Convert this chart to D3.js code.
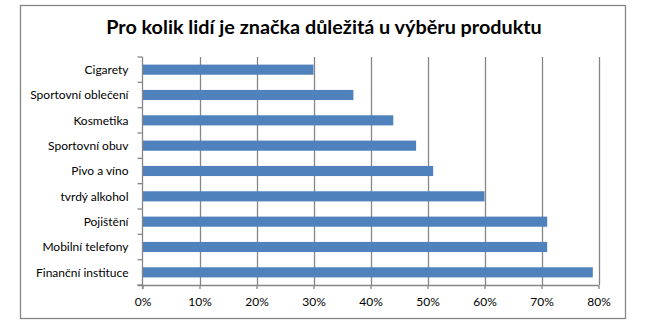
<!DOCTYPE html>
<html>
<head>
<meta charset="utf-8">
<script src="https://cdn.jsdelivr.net/npm/d3@7"></script>
<style>
  html, body { margin: 0; padding: 0; background: #fff; }
  svg { display: block; }
  text { font-family: Lato, "Open Sans", sans-serif; fill: #000; }
</style>
</head>
<body>
<svg id="chart" width="645" height="324"></svg>
<script>
// Share of people for whom the brand matters when choosing a product
const categories = [
  "Cigarety",
  "Sportovní oblečení",
  "Kosmetika",
  "Sportovní obuv",
  "Pivo a víno",
  "tvrdý alkohol",
  "Pojištění",
  "Mobilní telefony",
  "Finanční instituce"
];
const values = [30, 37, 44, 48, 51, 60, 71, 71, 79];
const xTicks = [0, 10, 20, 30, 40, 50, 60, 70, 80];
const title = "Pro kolik lidí je značka důležitá u výběru produktu";

const svg = d3.select("#chart");
const gridColor = "#868686";
const barColor = "#4F81BD";

// outer chart frame
svg.append("rect")
  .attr("x", 20.5).attr("y", 5.5)
  .attr("width", 605).attr("height", 313)
  .attr("fill", "#fff")
  .attr("stroke", gridColor).attr("stroke-width", 1.3);

svg.append("text")
  .attr("x", 324).attr("y", 34)
  .attr("text-anchor", "middle")
  .style("font-size", "19.8px").style("font-weight", "bold")
  .text(title);

const plot = { left: 142.5, right: 598.5, top: 57, bottom: 285 };

const x = d3.scaleLinear().domain([0, 80]).range([plot.left, plot.right]);
const y = d3.scaleBand().domain(categories)
  .range([plot.top, plot.bottom]).paddingInner(0.6).paddingOuter(0.3);

// vertical gridlines
svg.append("g")
  .selectAll("line").data(xTicks.slice(1)).join("line")
  .attr("x1", d => Math.round(x(d)) + 0.5).attr("x2", d => Math.round(x(d)) + 0.5)
  .attr("y1", plot.top).attr("y2", plot.bottom)
  .attr("stroke", gridColor).attr("stroke-width", 1.3);

// bars
svg.append("g")
  .selectAll("rect").data(values).join("rect")
  .attr("x", x(0))
  .attr("y", (d, i) => y(categories[i]))
  .attr("width", d => x(d) - x(0))
  .attr("height", y.bandwidth())
  .attr("fill", barColor);

// category axis with ticks between bands
const yAxis = svg.append("g").attr("transform", `translate(${plot.left},0)`);
yAxis.append("line")
  .attr("x1", 0).attr("x2", 0).attr("y1", plot.top).attr("y2", plot.bottom + 4)
  .attr("stroke", gridColor).attr("stroke-width", 1.3);
const bounds = d3.range(categories.length + 1).map(i => plot.top + i * (plot.bottom - plot.top) / categories.length);
yAxis.selectAll("line.tick").data(bounds).join("line")
  .attr("class", "tick")
  .attr("x1", -5).attr("x2", 0)
  .attr("y1", d => d).attr("y2", d => d)
  .attr("stroke", gridColor).attr("stroke-width", 1.3);
yAxis.selectAll("text").data(categories).join("text")
  .attr("x", -14)
  .attr("y", d => y(d) + y.bandwidth() / 2)
  .attr("dy", "0.35em")
  .attr("text-anchor", "end")
  .style("font-size", "12px")
  .text(d => d);

// value axis
const xAxis = d3.axisBottom(x)
  .tickValues(xTicks)
  .tickFormat(d => d + "%")
  .tickSize(4)
  .tickPadding(8);
const gx = svg.append("g")
  .attr("transform", `translate(0,${plot.bottom})`)
  .call(xAxis);
gx.select(".domain").attr("stroke", gridColor).attr("stroke-width", 1.3)
  .attr("d", `M${plot.left - 5},0.5H${plot.right}`);
gx.selectAll(".tick line").attr("stroke", gridColor).attr("stroke-width", 1.3);
gx.selectAll(".tick text")
  .style("font-family", "Lato, 'Open Sans', sans-serif")
  .style("font-size", "12px").attr("fill", "#000");
</script>
</body>
</html>
